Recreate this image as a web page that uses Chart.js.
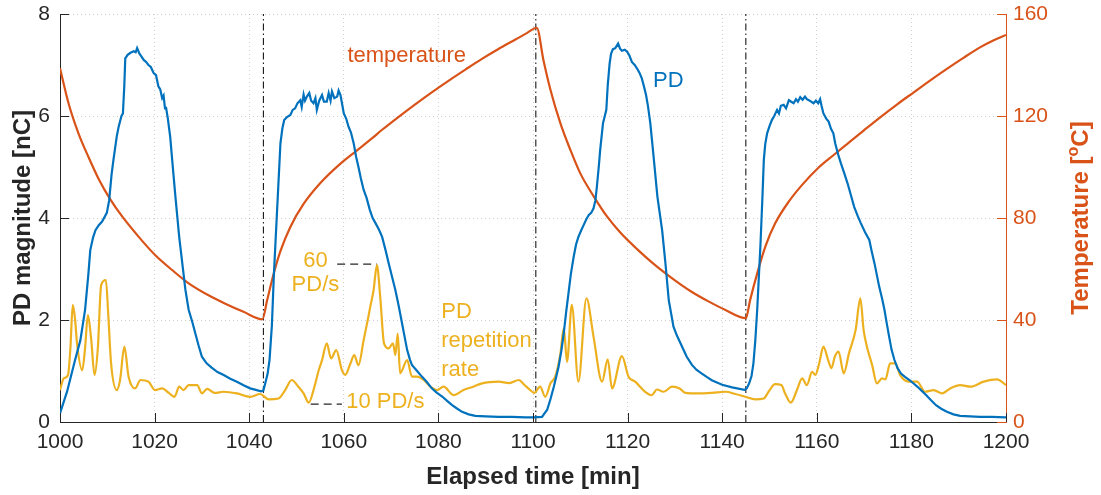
<!DOCTYPE html>
<html>
<head>
<meta charset="utf-8">
<script src="https://cdn.jsdelivr.net/npm/chart.js@4.4.1/dist/chart.umd.min.js"></script>
<style>
  html, body { margin: 0; padding: 0; background: #fff; }
  #wrap { width: 1101px; height: 495px; }
</style>
</head>
<body>
<div id="wrap"><canvas id="chart" width="1101" height="495"></canvas></div>
<script>
// PD magnitude [nC] vs elapsed time [min]
var pdTime = [1000,1001.5,1003.2,1004.3,1005.3,1006.0,1006.4,1007.0,1007.5,1008.2,1008.9,1009.9,1010.4,1010.9,1011.3,1012.0,1012.4,1013.0,1013.3,1013.6,1013.8,1014.3,1014.9,1015.6,1016.0,1016.3,1016.8,1017.2,1017.7,1018.2,1018.7,1019.2,1019.8,1020.3,1020.8,1021.2,1021.6,1021.9,1022.2,1022.4,1022.8,1023.3,1023.8,1024.4,1025.2,1026.1,1026.5,1027.2,1028.0,1028.6,1029.3,1030.0,1031.0,1032.0,1033.3,1034.6,1036.0,1037.4,1038.8,1040.2,1041.4,1042.5,1043.0,1043.4,1043.9,1044.3,1044.8,1045.2,1045.6,1045.9,1046.3,1046.6,1047.0,1047.4,1048.0,1048.7,1049.2,1049.7,1050.2,1050.8,1051.1,1051.5,1051.8,1052.2,1052.7,1053.1,1053.6,1054.0,1054.3,1054.8,1055.4,1055.8,1056.4,1056.8,1057.2,1057.5,1058.0,1058.6,1058.9,1059.3,1060.0,1060.5,1061.0,1061.5,1062.1,1062.6,1063.1,1063.6,1064.2,1064.8,1065.5,1066.1,1066.7,1067.4,1068.1,1068.8,1069.5,1070.2,1070.9,1071.6,1072.3,1072.9,1073.4,1074.0,1074.4,1075.5,1076.5,1077.6,1078.6,1079.7,1080.8,1081.9,1082.9,1084.0,1085.0,1086.4,1087.8,1090.0,1092.7,1095.5,1098.4,1100.1,1101.9,1103.0,1103.7,1104.4,1105.4,1106.0,1106.5,1107.0,1107.5,1108.0,1108.6,1109.1,1109.6,1110.2,1110.7,1111.3,1111.8,1112.3,1112.8,1113.2,1113.5,1113.9,1114.2,1114.8,1115.5,1115.8,1116.2,1116.5,1116.9,1117.4,1118.0,1118.4,1118.8,1119.4,1119.9,1120.4,1120.9,1121.5,1122.0,1122.5,1123.0,1123.4,1123.9,1124.3,1124.8,1125.5,1126.3,1127.3,1128.0,1128.7,1129.7,1130.4,1131.5,1132.5,1133.6,1134.6,1135.7,1136.8,1137.8,1139.0,1140.0,1142.1,1144.7,1145.2,1145.7,1146.2,1146.6,1147.0,1147.4,1148.1,1148.5,1148.8,1149.1,1149.5,1150.0,1150.5,1151.0,1151.6,1152.0,1152.4,1153.0,1153.5,1154.1,1154.6,1155.1,1155.6,1156.0,1156.5,1157.0,1157.5,1157.9,1158.5,1159.3,1159.8,1160.3,1160.7,1161.0,1161.4,1162.0,1162.5,1163.0,1163.5,1163.9,1164.5,1165.1,1165.8,1166.5,1167.2,1167.9,1168.6,1169.3,1170.2,1171.1,1171.6,1172.2,1172.7,1173.2,1173.8,1174.3,1174.8,1175.3,1175.8,1176.4,1177.1,1177.8,1178.7,1179.6,1180.4,1181.3,1182.2,1183.1,1184.1,1185.2,1186.3,1187.5,1188.9,1190.3,1192.4,1194.5,1197.0,1200];
var pdValue = [0.17,0.6,1.22,1.6,2.2,2.9,3.37,3.62,3.76,3.86,3.93,4.1,4.35,4.85,5.14,5.6,5.79,6.0,6.05,6.6,7.13,7.2,7.24,7.27,7.25,7.33,7.22,7.17,7.1,7.06,7.0,6.96,6.84,6.8,6.58,6.52,6.35,6.4,6.15,6.18,5.95,5.59,5.05,4.42,3.63,2.92,2.6,2.2,1.95,1.74,1.5,1.28,1.15,1.07,0.98,0.92,0.85,0.79,0.72,0.66,0.63,0.6,0.62,0.76,0.95,1.22,1.9,2.85,3.6,4.16,4.9,5.46,5.75,5.92,5.98,6.02,6.12,6.15,6.25,6.31,6.18,6.42,6.3,6.38,6.45,6.3,6.25,6.35,6.12,6.3,6.41,6.28,6.28,6.45,6.3,6.48,6.35,6.38,6.5,6.41,6.05,5.95,5.79,5.68,5.46,5.2,5.0,4.78,4.55,4.4,4.16,4.0,3.9,3.78,3.63,3.38,3.11,2.85,2.59,2.28,1.94,1.65,1.41,1.22,1.12,1.0,0.89,0.78,0.66,0.57,0.5,0.41,0.33,0.26,0.2,0.15,0.12,0.11,0.1,0.1,0.09,0.09,0.1,0.24,0.45,0.69,1.08,1.4,1.74,2.15,2.52,2.9,3.24,3.48,3.63,3.76,3.86,3.98,4.06,4.1,4.19,4.35,4.61,5.0,5.33,5.86,6.12,6.6,7.03,7.22,7.31,7.33,7.42,7.32,7.28,7.3,7.26,7.18,7.06,7.0,6.93,6.85,6.74,6.6,6.41,6.2,5.86,5.2,4.42,3.76,3.11,2.39,1.87,1.7,1.48,1.28,1.12,1.02,0.95,0.88,0.82,0.77,0.73,0.68,0.63,0.66,0.76,0.9,1.15,1.6,2.2,3.5,4.4,5.14,5.45,5.66,5.8,5.92,6.0,6.12,6.05,6.2,6.22,6.15,6.31,6.28,6.25,6.33,6.28,6.37,6.32,6.38,6.33,6.3,6.25,6.3,6.25,6.33,6.2,6.05,5.95,5.89,5.75,5.66,5.46,5.25,5.07,4.88,4.68,4.45,4.22,4.05,3.9,3.72,3.57,3.35,3.11,2.88,2.65,2.42,2.2,1.93,1.67,1.42,1.22,1.05,0.95,0.88,0.82,0.76,0.69,0.61,0.53,0.43,0.33,0.26,0.2,0.15,0.12,0.11,0.1,0.1,0.09];

// temperature [°C]
var tempTime = [1000,1001.8,1003.9,1006.0,1008.2,1010.6,1013.1,1016.6,1020.1,1023.7,1027.2,1031.8,1035.3,1038.8,1042.8,1043.8,1045.2,1046.6,1048.7,1051.5,1055.0,1059.3,1062.8,1066.0,1068.1,1071.6,1075.1,1078.6,1082.2,1085.7,1089.2,1092.7,1096.3,1098.7,1100.8,1102.2,1103.7,1105.8,1107.9,1110.0,1112.8,1115.6,1118.5,1122.0,1125.5,1128.3,1131.1,1133.6,1137.1,1140.7,1145.0,1145.9,1147.4,1149.1,1151.2,1154.1,1156.9,1160.4,1163.9,1166.4,1169.9,1173.4,1177.0,1180.5,1184.0,1187.5,1191.0,1194.6,1197.3,1200];
var tempValue = [138.7,125,113.2,104,95.2,87.4,80.7,72.7,65.5,59.6,54.4,49.3,46.1,43.2,40.3,47.8,58.3,67.0,76.5,85.5,93.6,101.3,106.5,111.3,114.6,119.7,124.6,129.3,133.9,138.2,142.4,146.3,150.0,152.5,154.6,142,130.2,117.1,106.7,97.5,88.6,80.7,74.2,67.8,62.0,57.9,54.1,51.0,47.3,43.9,40.7,47.8,58.3,68.7,77.9,86.5,93.0,99.8,105.2,109.0,114.3,119.5,124.6,129.3,134.0,138.5,142.8,147.0,149.6,151.8];

// PD repetition rate [PD/s]
var rateTime = [1000,1000.8,1001.7,1002.2,1002.7,1003.2,1003.6,1004.7,1005.3,1005.9,1006.6,1007.3,1008.0,1008.7,1009.7,1010.2,1010.8,1012.0,1012.7,1013.6,1014.5,1015.9,1017.0,1018.7,1020.1,1021.6,1023.0,1024.2,1025.2,1026.1,1027.2,1029.0,1030.0,1031.1,1032.7,1034.6,1037.4,1040.2,1042.3,1044.1,1046.2,1047.6,1049.0,1050.4,1051.5,1052.6,1053.6,1054.7,1055.4,1056.4,1057.3,1058.4,1059.6,1060.3,1061.4,1062.2,1063.1,1064.2,1065.2,1065.6,1066.3,1067.0,1067.7,1068.5,1069.5,1070.4,1070.9,1071.4,1071.9,1073.4,1074.4,1075.5,1076.9,1078.3,1079.7,1081.1,1083.2,1085.3,1087.4,1089.2,1092.7,1095.0,1097.0,1098.2,1099.0,1100.3,1101.5,1102.6,1103.7,1104.7,1105.8,1106.5,1107.2,1108.2,1109.6,1111.3,1112.8,1114.6,1115.8,1116.7,1118.8,1120.2,1121.6,1123.7,1125.1,1126.2,1127.6,1129.4,1131.0,1132.2,1135.0,1137.8,1140.7,1142.8,1144.9,1147.0,1148.8,1149.8,1151.2,1152.5,1153.3,1154.5,1155.8,1156.9,1157.9,1159.0,1159.7,1160.5,1161.4,1162.4,1163.1,1163.8,1164.6,1165.7,1166.8,1168.2,1169.2,1169.9,1170.6,1171.7,1172.7,1173.8,1174.5,1175.5,1176.6,1177.6,1179.4,1181.2,1182.9,1184.7,1186.5,1188.2,1190.3,1192.5,1195.3,1198.1,1200];
var rateValue = [15,19.2,20.4,30,45.4,40,31.7,22.1,30,41.8,33,20.4,30,52.5,54.3,42,24.5,15,18.6,30.5,19.8,15.6,18.6,18,15,15.6,14,12.6,16.2,15,16.8,16.8,13.8,15.4,14,14.4,13.8,12.6,13.6,11.7,12,15,18.6,16.2,13.8,10.5,15,22.1,25.7,31.7,26.3,29.3,22.1,20.4,24.5,27.5,23.9,32.9,41.2,44.8,50.7,59.6,48.3,31.7,29.9,31.7,27.5,35.2,21,25.7,19.8,19.8,18.6,16.2,15,16.2,13.2,15,16.2,17.4,18,17.5,18.6,16.8,15.6,14,16.2,12.6,17.4,19.8,28.1,37,25.1,45.4,18,47.8,34,18,26,15.6,27.1,19.8,18,14.4,13.2,15.2,14.4,16.2,15.6,14,13.8,14,14.4,13.6,12.6,11.7,12,14.4,17.1,16.8,13.8,10.5,15,19.2,16.8,21.5,20.4,24.5,30.5,25.7,22.8,26.9,28.7,21,28.1,36.4,47.8,36.4,30.5,23.9,17.4,19.2,18.8,24.5,24.5,20.4,18,18,14.4,15,13.8,15.6,16.8,16.2,18,18.8,16.8];

// heating/cooling switch times [min]
var switchTime = [1043, 1100.6, 1145];

// reference marks for the rate scale: level [PD/s], from, to [min]
var refLevel = [60, 10];
var refFrom = [1058.6, 1053.0];
var refTo = [1067.0, 1059.6];

var xTicks = { min: 1000, max: 1200, step: 20 };
var yTicks = { min: 0, max: 8, step: 2 };
var tTicks = { min: 0, max: 160, step: 40 };

var BLUE = '#0072BD', ORANGE = '#D95319', YELLOW = '#EDB120', AXIS = '#262626';
var FONT = '"Liberation Sans", Arial, Helvetica, sans-serif';

// text notes placed in data units (x: min, y: nC)
var notes = [
  { text: 'temperature', x: 1073.3, y: 7.18, color: ORANGE, align: 'center' },
  { text: 'PD', x: 1128.6, y: 6.69, color: BLUE, align: 'center' },
  { text: '60', x: 1054.0, y: 3.16, color: YELLOW, align: 'center' },
  { text: 'PD/s', x: 1054.0, y: 2.68, color: YELLOW, align: 'center' },
  { text: '10 PD/s', x: 1060.5, y: 0.40, color: YELLOW, align: 'left' },
  { text: 'PD', x: 1080.6, y: 2.16, color: YELLOW, align: 'left' },
  { text: 'repetition', x: 1080.6, y: 1.59, color: YELLOW, align: 'left' },
  { text: 'rate', x: 1080.6, y: 1.03, color: YELLOW, align: 'left' }
];

function pairs(xs, ys) {
  return xs.map(function(x, i) { return { x: x, y: ys[i] }; });
}

var datasets = [
  { label: 'PD', data: pairs(pdTime, pdValue), yAxisID: 'y', borderColor: BLUE,
    borderWidth: 2.2, pointRadius: 0, tension: 0, order: 1 },
  { label: 'temperature', data: pairs(tempTime, tempValue), yAxisID: 'yT', borderColor: ORANGE,
    borderWidth: 2.2, pointRadius: 0, cubicInterpolationMode: 'monotone', order: 2 },
  { label: 'PD repetition rate', data: pairs(rateTime, rateValue), yAxisID: 'yR', borderColor: YELLOW,
    borderWidth: 2.2, pointRadius: 0, cubicInterpolationMode: 'monotone', order: 3 }
];

switchTime.forEach(function(t) {
  datasets.push({ data: [{ x: t, y: yTicks.min }, { x: t, y: yTicks.max }], yAxisID: 'y',
    borderColor: '#000', borderWidth: 1, borderDash: [7, 3, 1.5, 3], pointRadius: 0, order: 4 });
});
refLevel.forEach(function(lv, i) {
  datasets.push({ data: [{ x: refFrom[i], y: lv }, { x: refTo[i], y: lv }], yAxisID: 'yR',
    borderColor: AXIS, borderWidth: 1.2, borderDash: [8, 5], pointRadius: 0, order: 4 });
});

var decor = {
  id: 'decor',
  afterDraw: function(chart) {
    var ctx = chart.ctx, a = chart.chartArea;
    var sx = chart.scales.x, sy = chart.scales.y, st = chart.scales.yT;
    var len = 9, v;
    ctx.save();
    ctx.lineWidth = 1;
    // inward tick marks
    ctx.strokeStyle = AXIS;
    ctx.beginPath();
    for (v = xTicks.min; v <= xTicks.max; v += xTicks.step) {
      var px = Math.round(sx.getPixelForValue(v)) + 0.5;
      ctx.moveTo(px, a.bottom); ctx.lineTo(px, a.bottom - len);
    }
    for (v = yTicks.min; v <= yTicks.max; v += yTicks.step) {
      var py = Math.round(sy.getPixelForValue(v)) + 0.5;
      ctx.moveTo(a.left, py); ctx.lineTo(a.left + len, py);
    }
    ctx.stroke();
    ctx.strokeStyle = ORANGE;
    ctx.beginPath();
    for (v = tTicks.min; v <= tTicks.max; v += tTicks.step) {
      var pt = Math.round(st.getPixelForValue(v)) + 0.5;
      ctx.moveTo(a.right, pt); ctx.lineTo(a.right - len, pt);
    }
    ctx.stroke();

    // notes
    ctx.font = '22px ' + FONT;
    ctx.textBaseline = 'middle';
    notes.forEach(function(n) {
      ctx.fillStyle = n.color;
      ctx.textAlign = n.align;
      ctx.fillText(n.text, sx.getPixelForValue(n.x), sy.getPixelForValue(n.y));
    });

    // axis titles
    var midY = (a.top + a.bottom) / 2;
    ctx.font = 'bold 24px ' + FONT;
    ctx.fillStyle = AXIS;
    ctx.textAlign = 'center';
    ctx.fillText('Elapsed time [min]', (a.left + a.right) / 2, a.bottom + 55);
    ctx.save();
    ctx.translate(a.left - 37, midY);
    ctx.rotate(-Math.PI / 2);
    ctx.fillText('PD magnitude [nC]', 0, 0);
    ctx.restore();

    // right title with superscript o
    ctx.save();
    ctx.translate(a.right + 75, midY);
    ctx.rotate(-Math.PI / 2);
    ctx.fillStyle = ORANGE;
    var p1 = 'Temperature [', p2 = 'o', p3 = 'C]';
    ctx.font = 'bold 24px ' + FONT;
    var w1 = ctx.measureText(p1).width, w3 = ctx.measureText(p3).width;
    ctx.font = 'bold 16px ' + FONT;
    var w2 = ctx.measureText(p2).width;
    var x0 = -(w1 + w2 + w3) / 2;
    ctx.textAlign = 'left';
    ctx.font = 'bold 24px ' + FONT;
    ctx.fillText(p1, x0, 0);
    ctx.font = 'bold 16px ' + FONT;
    ctx.fillText(p2, x0 + w1, -7);
    ctx.font = 'bold 24px ' + FONT;
    ctx.fillText(p3, x0 + w1 + w2, 0);
    ctx.restore();
    ctx.restore();
  }
};

var gridCol = 'rgba(38,38,38,0.22)';
function plain(v) { return String(v); }

new Chart(document.getElementById('chart'), {
  type: 'line',
  data: { datasets: datasets },
  options: {
    responsive: false,
    animation: false,
    devicePixelRatio: 1,
    layout: { padding: { top: 14, left: 0, right: 0, bottom: 0 } },
    plugins: { legend: { display: false }, tooltip: { enabled: false } },
    scales: {
      x: {
        type: 'linear', min: xTicks.min, max: xTicks.max,
        ticks: { stepSize: xTicks.step, color: AXIS, font: { family: FONT, size: 21 }, padding: 8, callback: plain },
        grid: { color: gridCol, drawTicks: false },
        border: { color: AXIS, width: 1, dash: [1, 3] },
        afterFit: function(s) { s.height = 73; s.paddingLeft = 0; s.paddingRight = 0; }
      },
      y: {
        position: 'left', min: yTicks.min, max: yTicks.max,
        ticks: { stepSize: yTicks.step, color: AXIS, font: { family: FONT, size: 21 }, padding: 10, callback: plain },
        grid: { color: gridCol, drawTicks: false },
        border: { color: AXIS, width: 1, dash: [1, 3] },
        afterFit: function(s) { s.width = 60; s.paddingTop = 0; s.paddingBottom = 0; }
      },
      yT: {
        position: 'right', min: tTicks.min, max: tTicks.max,
        ticks: { stepSize: tTicks.step, color: ORANGE, font: { family: FONT, size: 21 }, padding: 7, callback: plain },
        grid: { drawOnChartArea: false, drawTicks: false },
        border: { color: ORANGE, width: 1 },
        afterFit: function(s) { s.width = 95; s.paddingTop = 0; s.paddingBottom = 0; }
      },
      yR: { display: false, min: 3.6, max: 149.3 }
    }
  },
  plugins: [decor]
});
</script>
</body>
</html>
